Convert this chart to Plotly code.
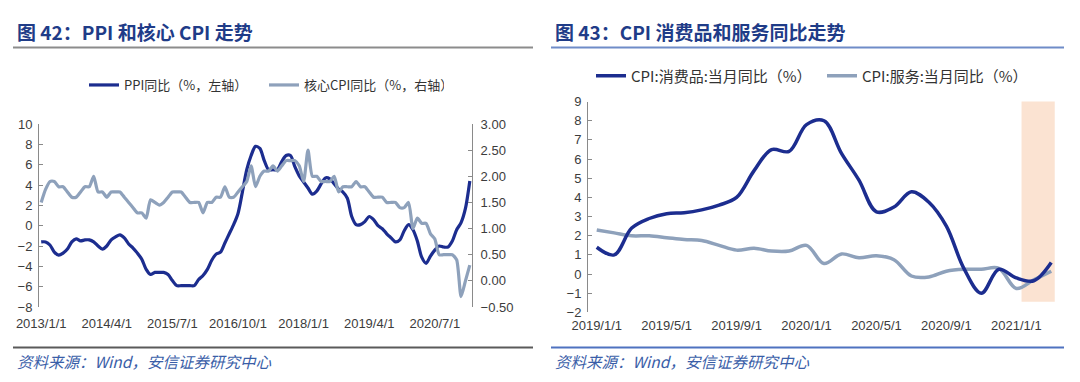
import plotly.graph_objects as go

W, H = 1080, 382

# ---------------- Data: Figure 42 (monthly, 2013/1 - 2021/3) ----------------
ppi_yoy = [
    -1.6, -1.6, -1.9, -2.6, -2.9, -2.7, -2.3, -1.6, -1.3, -1.5, -1.4, -1.4,
    -1.6, -2.0, -2.3, -2.0, -1.4, -1.1, -0.9, -1.2, -1.8, -2.2, -2.7, -3.3,
    -4.3, -4.8, -4.6, -4.6, -4.6, -4.8, -5.4, -5.9, -5.9, -5.9, -5.9, -5.9,
    -5.3, -4.9, -4.3, -3.4, -2.8, -2.6, -1.7, -0.8, 0.1, 1.2, 3.3, 5.5,
    6.9, 7.8, 7.6, 6.4, 5.5, 5.5, 5.5, 6.3, 6.9, 6.9, 5.8, 4.9,
    4.3, 3.7, 3.1, 3.4, 4.1, 4.7, 4.6, 4.1, 3.6, 3.3, 2.7, 0.9,
    0.1, 0.1, 0.4, 0.9, 0.6, 0.0, -0.3, -0.8, -1.2, -1.6, -1.4, -0.5,
    0.1, -0.4, -1.5, -3.1, -3.7, -3.0, -2.4, -2.0, -2.1, -2.1, -1.5, -0.4,
    0.3, 1.7, 4.4,
]
core_cpi_yoy = [
    1.5, 1.75, 1.9, 1.9, 1.8, 1.8, 1.7, 1.6, 1.6, 1.7, 1.8, 1.8,
    2.0, 1.7, 1.7, 1.6, 1.7, 1.7, 1.7, 1.6, 1.5, 1.4, 1.3, 1.3,
    1.2, 1.55, 1.5, 1.45, 1.5, 1.6, 1.7, 1.7, 1.7, 1.6, 1.5, 1.5,
    1.5, 1.3, 1.5, 1.5, 1.6, 1.6, 1.8, 1.6, 1.6, 1.7, 1.8, 1.9,
    2.2, 1.8, 2.0, 2.1, 2.1, 2.2, 2.1, 2.2, 2.3, 2.3, 2.3, 2.2,
    1.9, 2.5, 2.0, 2.0, 1.9, 1.9, 1.9, 2.0, 1.7, 1.8, 1.8, 1.8,
    1.9, 1.8, 1.8, 1.7, 1.6, 1.6, 1.6, 1.5, 1.5, 1.5, 1.4, 1.4,
    1.5, 1.0, 1.2, 1.1, 1.1, 0.9, 0.8, 0.5, 0.5, 0.5, 0.5, 0.4,
    -0.3, 0.0, 0.3,
]
months42 = [f"{2013 + i // 12}/{i % 12 + 1}/1" for i in range(len(ppi_yoy))]
ticklabels42 = ["2013/1/1", "2014/4/1", "2015/7/1", "2016/10/1", "2018/1/1", "2019/4/1", "2020/7/1"]

# ---------------- Data: Figure 43 (monthly, 2019/1 - 2021/3) ----------------
cpi_goods_yoy = [
    1.4, 1.0, 2.4, 2.9, 3.15, 3.2, 3.35, 3.6, 4.0, 5.4, 6.5, 6.4,
    7.8, 8.0, 6.3, 4.9, 3.25, 3.5, 4.3, 3.75, 2.5, 0.3, -1.0, 0.25,
    -0.2, -0.35, 0.6,
]
cpi_services_yoy = [
    2.3, 2.15, 2.0, 2.0, 1.9, 1.8, 1.75, 1.5, 1.25, 1.35, 1.2, 1.2,
    1.5, 0.55, 1.05, 0.85, 0.95, 0.75, -0.1, -0.15, 0.15, 0.25, 0.25, 0.3,
    -0.75, -0.3, 0.15,
]
months43 = [f"{2019 + i // 12}/{i % 12 + 1}/1" for i in range(len(cpi_goods_yoy))]
ticklabels43 = ["2019/1/1", "2019/5/1", "2019/9/1", "2020/1/1", "2020/5/1", "2020/9/1", "2021/1/1"]
highlight43 = ("2021/1/1", "2021/3/1")

# ---------------- Styles ----------------
NAVY = "#1c2d8f"
GREYBLUE = "#8ea1bb"
AXIS = "#8a8a8a"
TXT = "#3c3c3c"
TITLE = "#1f3c88"
CJK = "Noto Sans CJK SC"
LAT = "Liberation Sans, Arial"


def px(x):
    return x / W


def py(y):
    return 1 - y / H


fig = go.Figure()

x42 = list(range(len(months42)))
x43 = list(range(len(months43)))

fig.add_trace(go.Scatter(
    x=x42, y=core_cpi_yoy, xaxis="x", yaxis="y2", mode="lines",
    name="核心CPI同比（%，右轴）", legend="legend", legendrank=2,
    line=dict(color=GREYBLUE, width=3.2, shape="spline", smoothing=0.6),
    customdata=months42, hovertemplate="%{customdata}: %{y}<extra></extra>"))
fig.add_trace(go.Scatter(
    x=x42, y=ppi_yoy, xaxis="x", yaxis="y", mode="lines",
    name="PPI同比（%，左轴）", legend="legend", legendrank=1,
    line=dict(color=NAVY, width=3.2, shape="spline", smoothing=0.8),
    customdata=months42, hovertemplate="%{customdata}: %{y}<extra></extra>"))

fig.add_trace(go.Scatter(
    x=x43, y=cpi_services_yoy, xaxis="x2", yaxis="y3", mode="lines",
    name="CPI:服务:当月同比（%）", legend="legend2", legendrank=2,
    line=dict(color=GREYBLUE, width=3.5, shape="spline", smoothing=1.0),
    customdata=months43, hovertemplate="%{customdata}: %{y}<extra></extra>"))
fig.add_trace(go.Scatter(
    x=x43, y=cpi_goods_yoy, xaxis="x2", yaxis="y3", mode="lines",
    name="CPI:消费品:当月同比（%）", legend="legend2", legendrank=1,
    line=dict(color=NAVY, width=3.5, shape="spline", smoothing=1.0),
    customdata=months43, hovertemplate="%{customdata}: %{y}<extra></extra>"))

# geometry
L_dom_x = [px(39), px(472)]
L_dom_y = [py(307), py(124)]
R_dom_x = [px(588), px(1060)]
R_dom_y = [py(312.4), py(101.6)]
L_yr = [-8, 10]
R_yr = [-2, 9]
zero_L = L_dom_y[0] + (0 - L_yr[0]) / (L_yr[1] - L_yr[0]) * (L_dom_y[1] - L_dom_y[0])
zero_R = R_dom_y[0] + (0 - R_yr[0]) / (R_yr[1] - R_yr[0]) * (R_dom_y[1] - R_dom_y[0])

tickfont = dict(family=LAT, size=13, color=TXT)
common_y = dict(showgrid=False, zeroline=False, showline=True, linecolor=AXIS, linewidth=1,
                ticks="inside", ticklen=4, tickcolor=AXIS, tickfont=tickfont, automargin=False)

fig.update_layout(
    width=W, height=H, margin=dict(l=0, r=0, t=0, b=0, pad=0, autoexpand=False),
    paper_bgcolor="white", plot_bgcolor="rgba(0,0,0,0)", showlegend=True,
    xaxis=dict(domain=L_dom_x, anchor="y", range=[-0.5, len(x42) - 0.5],
               tickvals=[months42.index(t) for t in ticklabels42], ticktext=ticklabels42,
               showgrid=False, zeroline=False, showline=False, ticks="", automargin=False,
               tickfont=tickfont, ticklabelstandoff=7),
    yaxis=dict(domain=L_dom_y, range=L_yr, dtick=2, tick0=0, anchor="x",
               ticklabelstandoff=3, **common_y),
    yaxis2=dict(overlaying="y", side="right", anchor="x", range=[-0.5, 3.0], dtick=0.5,
                tick0=0, tickformat=".2f", ticklabelstandoff=5, **common_y),
    xaxis3=dict(overlaying="x", anchor="free", position=zero_L, range=[-0.5, len(x42) - 0.5],
                tickvals=[months42.index(t) - 0.5 for t in ticklabels42[1:]],
                showticklabels=False, showgrid=False, zeroline=False, automargin=False,
                showline=True, linecolor=AXIS, linewidth=1.5,
                ticks="inside", ticklen=4, tickcolor=AXIS),
    xaxis2=dict(domain=R_dom_x, anchor="y3", range=[-0.5, len(x43) - 0.5],
                tickvals=[months43.index(t) for t in ticklabels43], ticktext=ticklabels43,
                showgrid=False, zeroline=False, showline=False, ticks="", automargin=False,
                tickfont=tickfont, ticklabelstandoff=4),
    yaxis3=dict(domain=R_dom_y, range=R_yr, dtick=1, tick0=0, anchor="x2",
                ticklabelstandoff=3, **common_y),
    xaxis4=dict(overlaying="x2", anchor="free", position=zero_R, range=[-0.5, len(x43) - 0.5],
                tickvals=[months43.index(t) - 0.5 for t in ticklabels43[1:]],
                showticklabels=False, showgrid=False, zeroline=False, automargin=False,
                showline=True, linecolor=AXIS, linewidth=1.5,
                ticks="inside", ticklen=4, tickcolor=AXIS),
    legend=dict(orientation="h", x=px(84), y=py(85), xanchor="left", yanchor="middle",
                bgcolor="rgba(0,0,0,0)", font=dict(family=CJK, size=13, color="#333"),
                entrywidth=135, entrywidthmode="pixels", itemwidth=30, traceorder="normal"),
    legend2=dict(orientation="h", x=px(591), y=py(76), xanchor="left", yanchor="middle",
                 bgcolor="rgba(0,0,0,0)", font=dict(family=CJK, size=15, color="#333"),
                 entrywidth=186, entrywidthmode="pixels", itemwidth=30, traceorder="normal"),
)

# highlight band on figure 43 (drawn below the lines)
i0 = months43.index(highlight43[0])
i1 = months43.index(highlight43[1])
fig.add_shape(type="rect", xref="x2", yref="y3", x0=i0 + 0.3, x1=i1 + 0.2, y0=-1.45, y1=9.1,
              fillcolor="#fbe3d2", line=dict(width=0), layer="below")

# titles, rules and source notes
for x0, x1, title, top_col, bot_col in [
    (13, 533, "图 42：PPI 和核心 CPI 走势", "#8c8c8c", "#5a5a5a"),
    (551, 1064, "图 43：CPI 消费品和服务同比走势", "#6f8cc8", "#4f72c0"),
]:
    fig.add_annotation(text=f"<b>{title}</b>", x=px(x0 + 2), y=py(31), xref="paper", yref="paper",
                       xanchor="left", yanchor="middle", showarrow=False,
                       font=dict(family=CJK, size=19, color=TITLE))
    fig.add_shape(type="line", xref="paper", yref="paper", x0=px(x0), x1=px(x1),
                  y0=py(47.5), y1=py(47.5), line=dict(color=top_col, width=2))
    fig.add_shape(type="line", xref="paper", yref="paper", x0=px(x0), x1=px(x1),
                  y0=py(347.5), y1=py(347.5), line=dict(color=bot_col, width=2))
    fig.add_annotation(text="<i>资料来源：Wind，安信证券研究中心</i>", x=px(x0 + 2), y=py(361),
                       xref="paper", yref="paper", xanchor="left", yanchor="middle",
                       showarrow=False, font=dict(family=CJK, size=15.5, color="#3a5ea8"))

fig.write_html(
    "out.html",
    config={"displayModeBar": False},
    post_script="document.body.style.margin='0';document.body.style.overflow='hidden';",
)
